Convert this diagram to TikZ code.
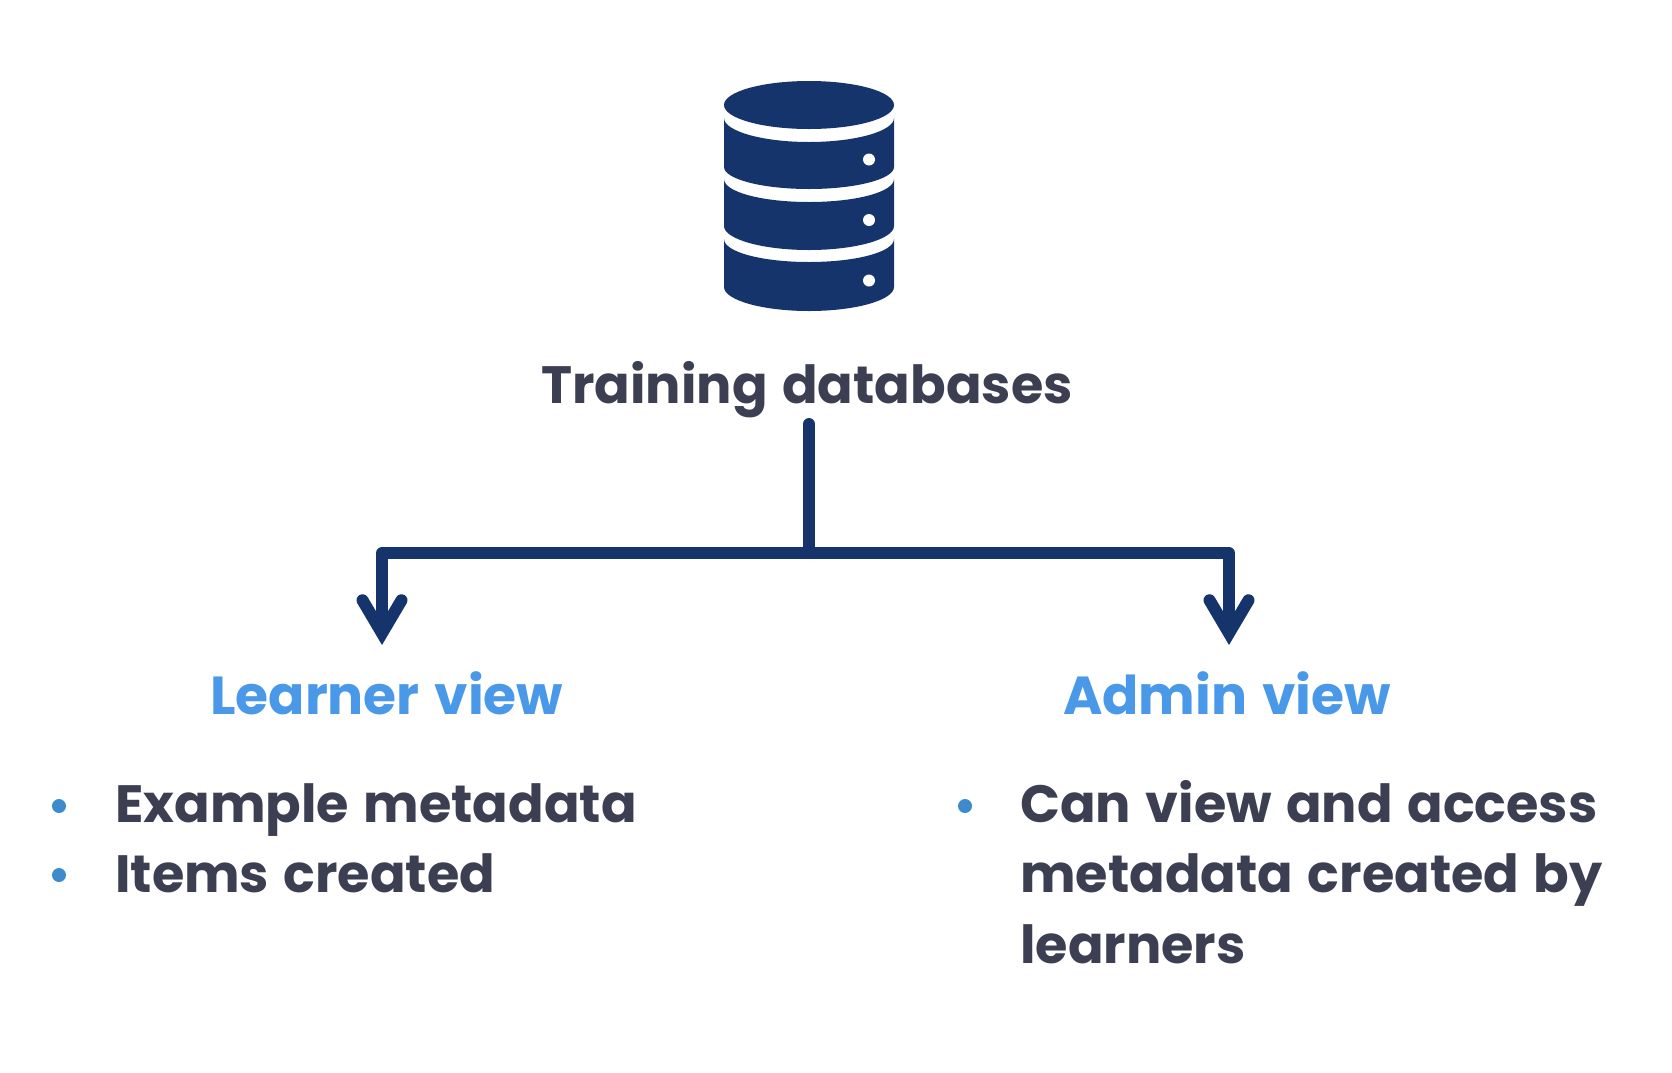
\documentclass[tikz,border=0pt]{standalone}
\usepackage{fontspec}
\setmainfont{Poppins}[WordSpace=1.3]
\usetikzlibrary{arrows.meta}
\definecolor{navy}{HTML}{16346C}
\definecolor{ink}{HTML}{3B3F51}
\definecolor{sky}{HTML}{4A98E8}
\definecolor{dotblue}{HTML}{3D8BCD}
\tikzset{
  x=1pt,y=-1pt,
  head/.style={anchor=base west,inner sep=0pt,font=\fontsize{53.5}{60}\selectfont\bfseries,text=sky},
  body/.style={anchor=base west,inner sep=0pt,font=\fontsize{52.5}{60}\selectfont\bfseries,text=ink},
  bul/.style={circle,fill=dotblue,inner sep=0pt,minimum size=14pt},
  conn/.style={draw=navy,line width=12pt,line join=round,
    -{Straight Barb[length=33pt,width=39pt,line cap=round,line join=miter,sep=0pt]}},
  stem/.style={draw=navy,line width=12pt,line cap=round},
  disk/.style={fill=navy},
  hole/.style={circle,fill=white,inner sep=0pt,minimum size=12pt},
}
\begin{document}
\begin{tikzpicture}
\useasboundingbox (0,0) rectangle (1672,1072);
% database icon
\fill[disk] (809,105) ellipse [x radius=85,y radius=24];
\fill[disk] (724,118) .. controls (724,131) and (762,142) .. (809,142) .. controls (856,142) and (894,131) .. (894,118) -- (894,167) .. controls (894,179) and (856,189) .. (809,189) .. controls (762,189) and (724,179) .. (724,167) -- cycle;
\fill[disk] (724,179) .. controls (724,192) and (762,202) .. (809,202) .. controls (856,202) and (894,192) .. (894,179) -- (894,226) .. controls (894,239) and (856,250) .. (809,250) .. controls (762,250) and (724,239) .. (724,226) -- cycle;
\fill[disk] (724,239) .. controls (724,252) and (762,262) .. (809,262) .. controls (856,262) and (894,252) .. (894,239) -- (894,287) .. controls (894,300) and (856,311) .. (809,311) .. controls (762,311) and (724,300) .. (724,287) -- cycle;
\node[hole] (h1) at (869,159.5) {};
\node[hole] (h2) at (869,220) {};
\node[hole] (h3) at (869,280.5) {};
% labels
\node[body] (title) at (541,403) {Training databases};
\node[head] (learner) at (210,714) {Learner view};
\node[head] (admin) at (1063,714) {Admin view};
\node[bul] (b1) at (59,806) {};
\node[bul] (b2) at (59,875) {};
\node[bul] (b3) at (965,806) {};
\node[body] (t1) at (115,822) {Example metadata};
\node[body] (t2) at (115,892) {Items created};
\node[body] (t3) at (1020,822) {Can view and access};
\node[body] (t4) at (1020,892) {metadata created by};
\node[body] (t5) at (1020,963) {learners};
% connectors
\coordinate (start) at (809,424);
\coordinate (junction) at (809,553);
\coordinate (tipL) at (382,645);
\coordinate (tipR) at (1229,645);
\draw[stem] (start) -- (junction);
\draw[conn] (junction) -| (tipL);
\draw[conn] (junction) -| (tipR);
\end{tikzpicture}
\end{document}
